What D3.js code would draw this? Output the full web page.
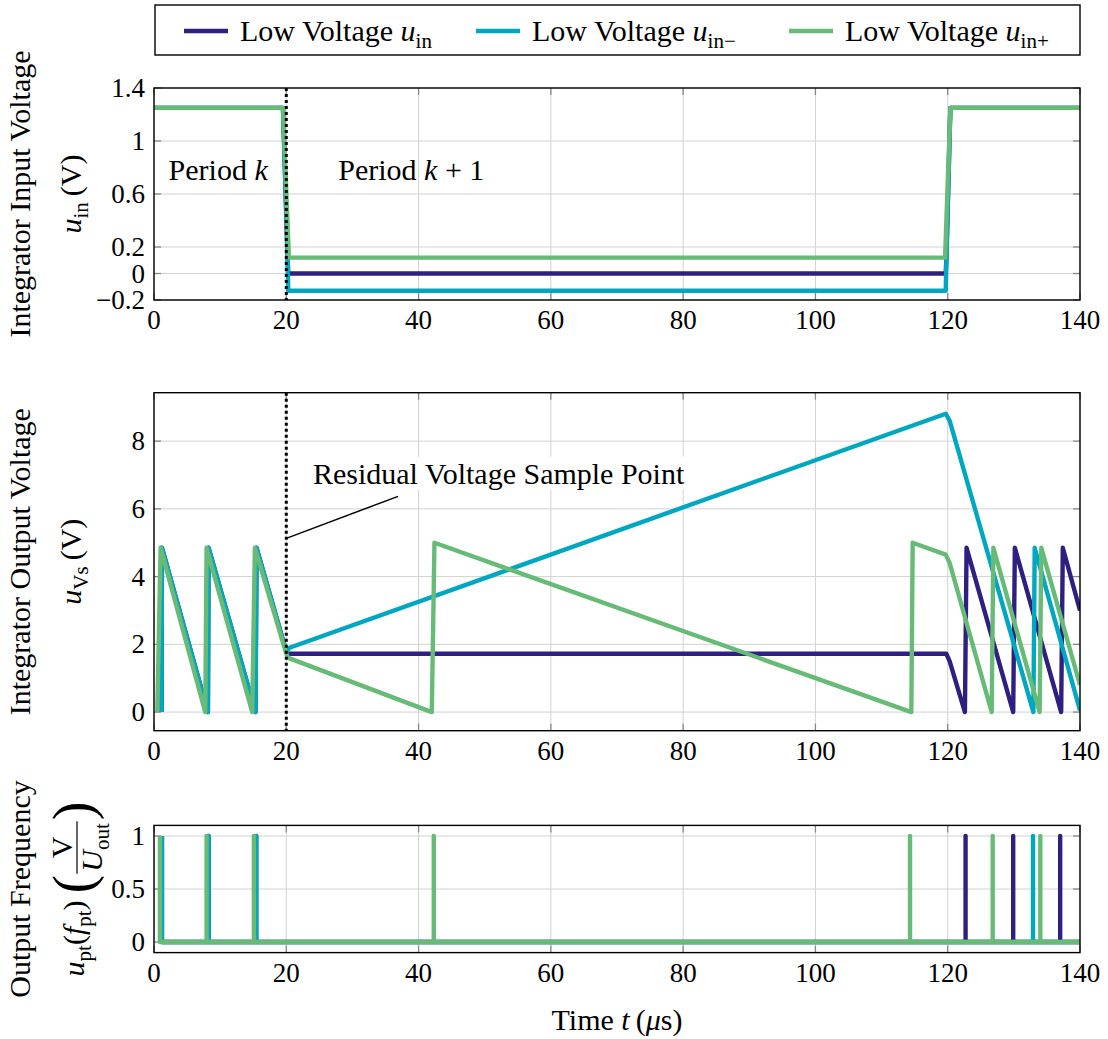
<!DOCTYPE html>
<html>
<head>
<meta charset="utf-8">
<script src="https://cdn.jsdelivr.net/npm/d3@7"></script>
<style>
  body { margin: 0; background: #fff; }
  svg { display: block; font-family: "Liberation Serif", serif; }
</style>
</head>
<body>
<div id="wrapper"></div>
<script>
// time axis ticks (µs)
const timeTicks = [0, 20, 40, 60, 80, 100, 120, 140];
const inputTicks = [-0.2, 0, 0.2, 0.6, 1, 1.4];
const outputTicks = [0, 2, 4, 6, 8];
const pulseTicks = [0, 0.5, 1];

const seriesLabels = ["in", "in\u2212", "in+"];
const seriesColors = ["#2e1f80", "#00a7c0", "#67bb76"];

// integrator input voltage [t, V]
const inputLow = [[0, 1.25], [19.5, 1.25], [20.2, 0.12], [20.3, 0], [119.7, 0], [119.8, 0.12], [120.4, 1.25], [140, 1.25]];
const inputLowMinus = [[0, 1.25], [19.5, 1.25], [20.2, 0.1], [20.3, -0.13], [119.7, -0.13], [119.8, 0.1], [120.4, 1.25], [140, 1.25]];
const inputLowPlus = [[0, 1.25], [19.5, 1.25], [20.4, 0.12], [119.6, 0.12], [120.4, 1.25], [140, 1.25]];

// integrator output voltage [t, V]
const outputLow = [[1.15, 0], [1.2, 4.85], [8.15, 0], [8.25, 4.85], [15.35, 0], [15.5, 4.85], [20, 1.78], [20.3, 1.72],
    [119.8, 1.72], [120.3, 1.5], [122.6, 0], [122.85, 4.85], [129.9, 0], [130.15, 4.85], [137.15, 0], [137.4, 4.85], [140, 3.0]];
const outputLowMinus = [[1.15, 0], [1.2, 4.85], [8.15, 0], [8.25, 4.85], [15.35, 0], [15.5, 4.85], [20, 1.78], [20.5, 1.9],
    [119.7, 8.81], [120.3, 8.6], [132.95, 0], [133.15, 4.85], [140, 0.05]];
const outputLowPlus = [[0.5, 0], [1.0, 4.85], [7.75, 0], [7.95, 4.85], [14.85, 0], [15.25, 4.85], [20, 1.72], [20.3, 1.6],
    [42.0, 0], [42.4, 5.0], [114.5, 0], [114.7, 5.0], [119.7, 4.65], [120.3, 4.4], [126.65, 0], [126.9, 4.85],
    [133.9, 0], [134.15, 4.85], [140, 0.8]];

// output pulse times (µs)
const pulseLow = [1.2, 8.25, 15.45, 122.7, 129.9, 137.0];
const pulseLowMinus = [1.2, 8.25, 15.45, 132.9];
const pulseLowPlus = [0.9, 7.95, 15.1, 42.3, 114.3, 126.8, 134.0];

const width = 1108;
const height = 1039;
const plotLeft = 154;
const plotRight = 1080;
const tickSize = 27;
const labelSize = 30;
const lineWidth = 4.4;

function pulseTrain(times) {
    const pts = [];
    times.forEach((t, i) => {
        if (i > 0) pts.push([t, 0]);
        pts.push([t, 1], [t, 0]);
    });
    pts.push([140, 0]);
    return pts;
}

function addMath(text, parts, size) {
    let shifted = false;
    const shift = size * 0.22;
    parts.forEach(p => {
        const ts = text.append("tspan").text(p.t);
        if (p.it) ts.style("font-style", "italic");
        if (p.sub) {
            ts.attr("font-size", size * 0.7);
            if (!shifted) { ts.attr("dy", shift); shifted = true; }
        } else if (shifted) {
            ts.attr("dy", -shift);
            shifted = false;
        }
    });
    return text;
}

function fmt(v) {
    return v < 0 ? "\u2212" + Math.abs(v) : String(v);
}

function drawChart() {
    const svg = d3.select("#wrapper")
        .append("svg")
        .attr("width", width)
        .attr("height", height);

    const xScale = d3.scaleLinear()
        .domain([0, 140])
        .range([plotLeft, plotRight]);

    const panels = [
        { top: 88, bottom: 300, domain: [-0.2, 1.4], ticks: inputTicks, data: [inputLow, inputLowMinus, inputLowPlus], marker: true },
        { top: 392.7, bottom: 730.7, domain: [-0.55, 9.43], ticks: outputTicks, data: [outputLow, outputLowMinus, outputLowPlus], marker: true },
        { top: 825.4, bottom: 952.6, domain: [-0.1, 1.1], ticks: pulseTicks, data: [pulseTrain(pulseLow), pulseTrain(pulseLowMinus), pulseTrain(pulseLowPlus)], marker: false },
    ];

    panels.forEach((p, pi) => {
        const yScale = d3.scaleLinear().domain(p.domain).range([p.bottom, p.top]);
        p.yScale = yScale;
        const g = svg.append("g");

        g.append("clipPath").attr("id", "clip" + pi)
            .append("rect")
            .attr("x", plotLeft).attr("y", p.top)
            .attr("width", plotRight - plotLeft).attr("height", p.bottom - p.top);

        // grid
        g.selectAll(".vgrid").data(timeTicks).join("line")
            .attr("x1", d => xScale(d)).attr("x2", d => xScale(d))
            .attr("y1", p.top).attr("y2", p.bottom)
            .attr("stroke", "#d2d2d2").attr("stroke-width", 1);
        g.selectAll(".hgrid").data(p.ticks).join("line")
            .attr("x1", plotLeft).attr("x2", plotRight)
            .attr("y1", d => yScale(d)).attr("y2", d => yScale(d))
            .attr("stroke", "#d2d2d2").attr("stroke-width", 1);

        // inner ticks
        const tickLen = 7;
        timeTicks.forEach(t => {
            [[p.bottom, p.bottom - tickLen], [p.top, p.top + tickLen]].forEach(([a, b]) => {
                g.append("line").attr("x1", xScale(t)).attr("x2", xScale(t))
                    .attr("y1", a).attr("y2", b).attr("stroke", "#888").attr("stroke-width", 1.3);
            });
        });
        p.ticks.forEach(v => {
            [[plotLeft, plotLeft + tickLen], [plotRight, plotRight - tickLen]].forEach(([a, b]) => {
                g.append("line").attr("x1", a).attr("x2", b)
                    .attr("y1", yScale(v)).attr("y2", yScale(v)).attr("stroke", "#888").attr("stroke-width", 1.3);
            });
        });

        const lineGenerator = d3.line()
            .x(d => xScale(d[0]))
            .y(d => yScale(d[1]));

        p.data.forEach((series, si) => {
            g.append("path")
                .attr("d", lineGenerator(series))
                .attr("clip-path", `url(#clip${pi})`)
                .attr("fill", "none")
                .attr("stroke", seriesColors[si])
                .attr("stroke-width", lineWidth)
                .attr("stroke-linejoin", "round");
        });

        if (p.marker) {
            g.append("line")
                .attr("x1", xScale(20)).attr("x2", xScale(20))
                .attr("y1", p.top).attr("y2", p.bottom)
                .attr("stroke", "#000").attr("stroke-width", 3)
                .attr("stroke-dasharray", "3 3");
        }

        g.append("rect")
            .attr("x", plotLeft).attr("y", p.top)
            .attr("width", plotRight - plotLeft).attr("height", p.bottom - p.top)
            .attr("fill", "none").attr("stroke", "#000").attr("stroke-width", 1.4);

        // tick labels
        g.selectAll(".xlab").data(timeTicks).join("text")
            .attr("x", d => xScale(d)).attr("y", p.bottom + 29)
            .attr("text-anchor", "middle").attr("font-size", tickSize)
            .text(d => d);
        g.selectAll(".ylab").data(p.ticks).join("text")
            .attr("x", plotLeft - 9).attr("y", d => yScale(d) + 9)
            .attr("text-anchor", "end").attr("font-size", tickSize)
            .text(d => fmt(d));
    });

    const [topP, midP, botP] = panels;

    // annotations in top panel
    [["Period ", 9.7, []], ["Period ", 38.9, [{ t: " + 1" }]]].forEach(([word, t, extra]) => {
        const txt = svg.append("text")
            .attr("x", xScale(t)).attr("y", topP.yScale(0.78) + 10)
            .attr("text-anchor", "middle").attr("font-size", labelSize);
        addMath(txt, [{ t: word }, { t: "k", it: true }, ...extra], labelSize);
    });

    // residual voltage pin
    svg.append("line")
        .attr("x1", xScale(20)).attr("y1", midP.yScale(5.13))
        .attr("x2", xScale(36.9)).attr("y2", midP.yScale(6.37))
        .attr("stroke", "#000").attr("stroke-width", 1.5);
    const pinBox = svg.append("rect").attr("fill", "#fff");
    const pinText = svg.append("text")
        .attr("x", xScale(52.1)).attr("y", midP.yScale(7.04) + 10)
        .attr("text-anchor", "middle").attr("font-size", labelSize)
        .text("Residual Voltage Sample Point");
    const bb = pinText.node().getBBox();
    pinBox.attr("x", bb.x - 4).attr("y", bb.y).attr("width", bb.width + 8).attr("height", bb.height);

    // legend
    svg.append("rect")
        .attr("x", plotLeft + 1).attr("y", 5)
        .attr("width", plotRight - plotLeft - 1).attr("height", 50)
        .attr("fill", "#fff").attr("stroke", "#000").attr("stroke-width", 1.4);
    const legendX = [184, 476, 789];
    seriesLabels.forEach((lab, i) => {
        svg.append("line")
            .attr("x1", legendX[i]).attr("x2", legendX[i] + 44)
            .attr("y1", 31).attr("y2", 31)
            .attr("stroke", seriesColors[i]).attr("stroke-width", lineWidth);
        const txt = svg.append("text")
            .attr("x", legendX[i] + 56).attr("y", 41)
            .attr("font-size", labelSize);
        addMath(txt, [{ t: "Low Voltage " }, { t: "u", it: true }, { t: lab, sub: true }], labelSize);
    });

    // y axis labels
    const yLabels = [
        [topP, "Integrator Input Voltage", [{ t: "u", it: true }, { t: "in", sub: true }, { t: "\u2009(V)" }]],
        [midP, "Integrator Output Voltage", [{ t: "u", it: true }, { t: "Vs", sub: true }, { t: "\u2009(V)" }]],
        [botP, "Output Frequency", null],
    ];
    yLabels.forEach(([p, line1, line2]) => {
        const cy = (p.top + p.bottom) / 2;
        svg.append("text")
            .attr("transform", `translate(30, ${cy}) rotate(-90)`)
            .attr("text-anchor", "middle").attr("font-size", labelSize)
            .text(line1);
        if (line2) {
            const txt = svg.append("text")
                .attr("transform", `translate(81, ${cy}) rotate(-90)`)
                .attr("text-anchor", "middle").attr("font-size", labelSize);
            addMath(txt, line2, labelSize);
        }
    });

    // bottom panel unit label with fraction
    const cyB = (botP.top + botP.bottom) / 2;
    const outer = svg.append("g").attr("transform", `translate(84, ${cyB}) rotate(-90)`);
    const g = outer.append("g");
    const main = g.append("text").attr("x", 0).attr("y", 0).attr("font-size", labelSize);
    addMath(main, [{ t: "u", it: true }, { t: "pt", sub: true }, { t: "(" }, { t: "f", it: true }, { t: "pt", sub: true }, { t: ")" }], labelSize);
    let x = main.node().getComputedTextLength() + 7;
    const lp = g.append("text").attr("x", x).attr("y", 8).attr("font-size", 56).text("(");
    x += lp.node().getComputedTextLength() + 1;
    const num = g.append("text").attr("font-size", labelSize).attr("text-anchor", "middle").text("V");
    const den = g.append("text").attr("font-size", labelSize).attr("text-anchor", "middle");
    addMath(den, [{ t: "U", it: true }, { t: "out", sub: true }], labelSize);
    const fw = Math.max(num.node().getComputedTextLength(), den.node().getComputedTextLength()) + 4;
    num.attr("x", x + fw / 2).attr("y", -12);
    den.attr("x", x + fw / 2).attr("y", 18);
    g.append("line").attr("x1", x).attr("x2", x + fw).attr("y1", -7).attr("y2", -7)
        .attr("stroke", "#000").attr("stroke-width", 1.2);
    x += fw + 1;
    const rp = g.append("text").attr("x", x).attr("y", 8).attr("font-size", 56).text(")");
    x += rp.node().getComputedTextLength();
    g.attr("transform", `translate(${-x / 2}, 0)`);

    // x axis label
    const xl = svg.append("text")
        .attr("x", (plotLeft + plotRight) / 2).attr("y", 1030)
        .attr("text-anchor", "middle").attr("font-size", labelSize);
    addMath(xl, [{ t: "Time " }, { t: "t", it: true }, { t: "\u2009(" }, { t: "\u03bc", it: true }, { t: "s)" }], labelSize);
}

drawChart();
</script>
</body>
</html>
